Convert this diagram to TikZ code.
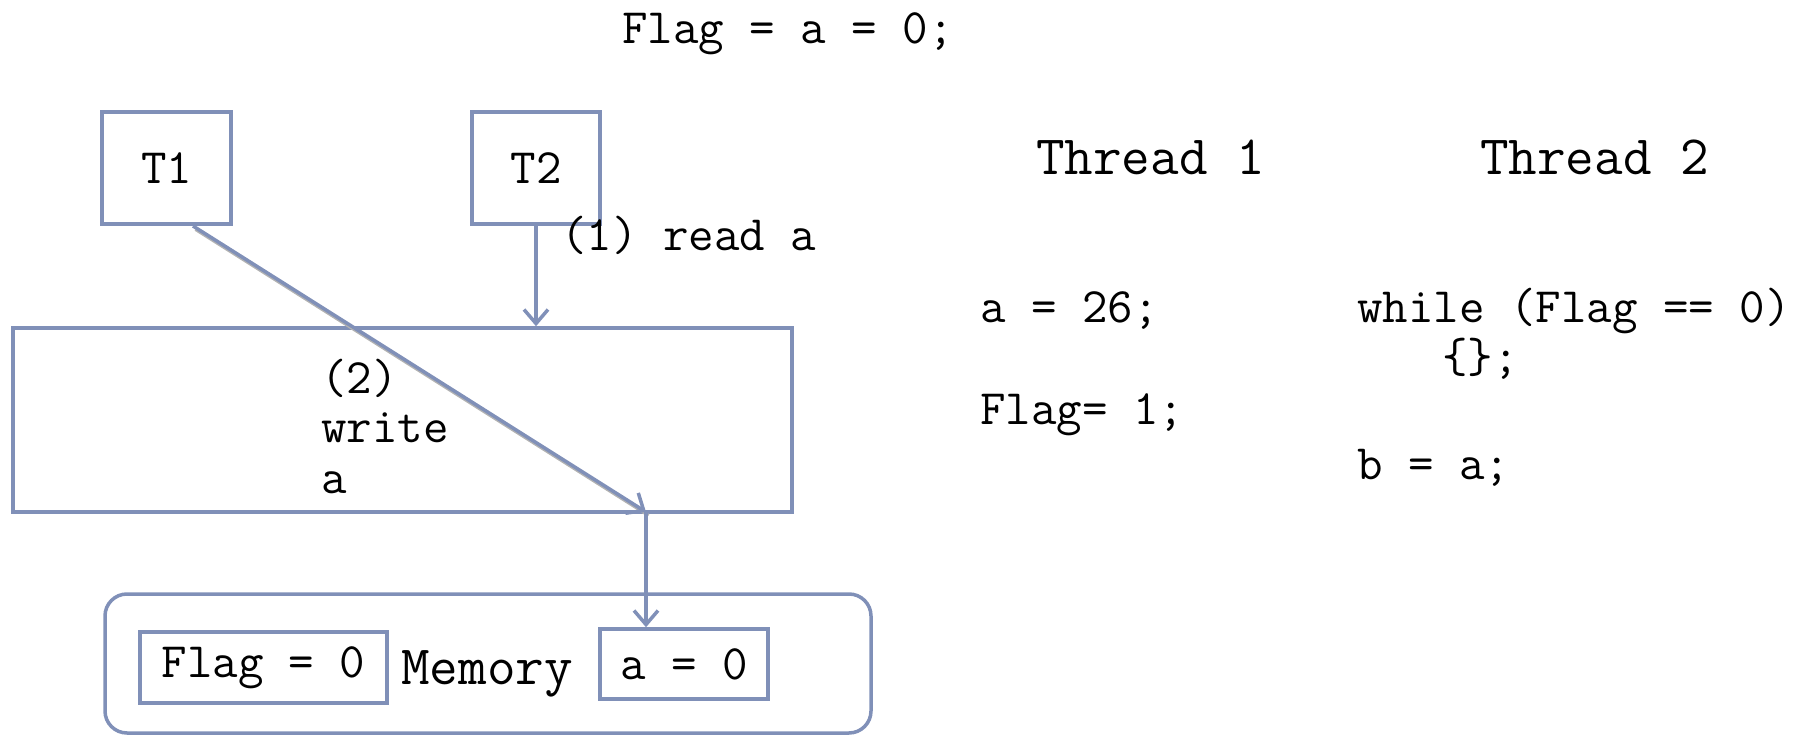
\documentclass[tikz,border=0pt]{standalone}
\usepackage{fontspec}
\usetikzlibrary{arrows.meta}
\definecolor{linec}{RGB}{128,144,184}
\begin{document}
\begin{tikzpicture}[x=1pt,y=1pt,
  code/.style={font=\ttfamily\fontsize{49.5}{58}\selectfont, inner sep=0pt},
  big/.style={font=\ttfamily\fontsize{55.5}{64}\selectfont, inner sep=0pt},
  box/.style={draw=linec, line width=3.5pt, inner sep=0pt, font=\ttfamily\fontsize{49.5}{58}\selectfont},
  arr/.style={draw=linec, line width=3.5pt, -{Straight Barb[length=14pt,width=24pt]}},
  shade/.style={draw=black!30, line width=3pt}
]
\useasboundingbox (0,0) rectangle (1805,-735);

% shared initialisation
\node[code, anchor=base west] (init) at (622,-44) {Flag = a = 0;};

% threads and the write buffer
\node[box, minimum width=129pt, minimum height=112pt] (t1) at (166.5,-168) {T1};
\node[box, minimum width=128pt, minimum height=112pt] (t2) at (536,-168) {T2};
\node[box, minimum width=779pt, minimum height=184pt] (buf) at (402.5,-420) {};
\node[code, anchor=base west] (rd) at (561,-251) {(1) read a};
\node[code, anchor=base west] (w1) at (321,-393) {(2)};
\node[code, anchor=base west] (w2) at (321,-442) {write};
\node[code, anchor=base west] (w3) at (321,-493) {a};

% memory
\node[draw=linec, line width=3.5pt, rounded corners=22pt, minimum width=766pt, minimum height=139pt] (mem) at (488,-663.5) {};
\node[box, minimum width=247pt, minimum height=71pt] (flag) at (263.5,-667.5) {Flag = 0};
\node[box, minimum width=168pt, minimum height=70pt] (aval) at (684,-664) {a = 0};
\node[big, anchor=base] (memlbl) at (487,-684) {Memory};

% connectors
\coordinate (t1out) at (193,-226);
\coordinate (wr) at (646,-512);
\draw[shade] ([shift={(2.5,-3.5)}]t1out) -- ([shift={(2.5,-3.5)}]wr);
\draw[arr] (t1out) -- (wr);
\draw[arr] (t2.south) -- (t2.south |- buf.north);
\draw[arr] (wr) -- (wr |- aval.north);

% program text
\node[big, anchor=base west] (th1) at (1036,-175) {Thread 1};
\node[big, anchor=base west] (th2) at (1480,-175) {Thread 2};
\node[code, anchor=base west] (l1) at (980,-323) {a = 26;};
\node[code, anchor=base west] (l2) at (980,-424) {Flag= 1;};
\node[code, anchor=base west] (r1) at (1357,-323) {while (Flag == 0)};
\node[code, anchor=base west] (r2) at (1442,-373) {\{\};};
\node[code, anchor=base west] (r3) at (1357,-479) {b = a;};
\end{tikzpicture}
\end{document}
